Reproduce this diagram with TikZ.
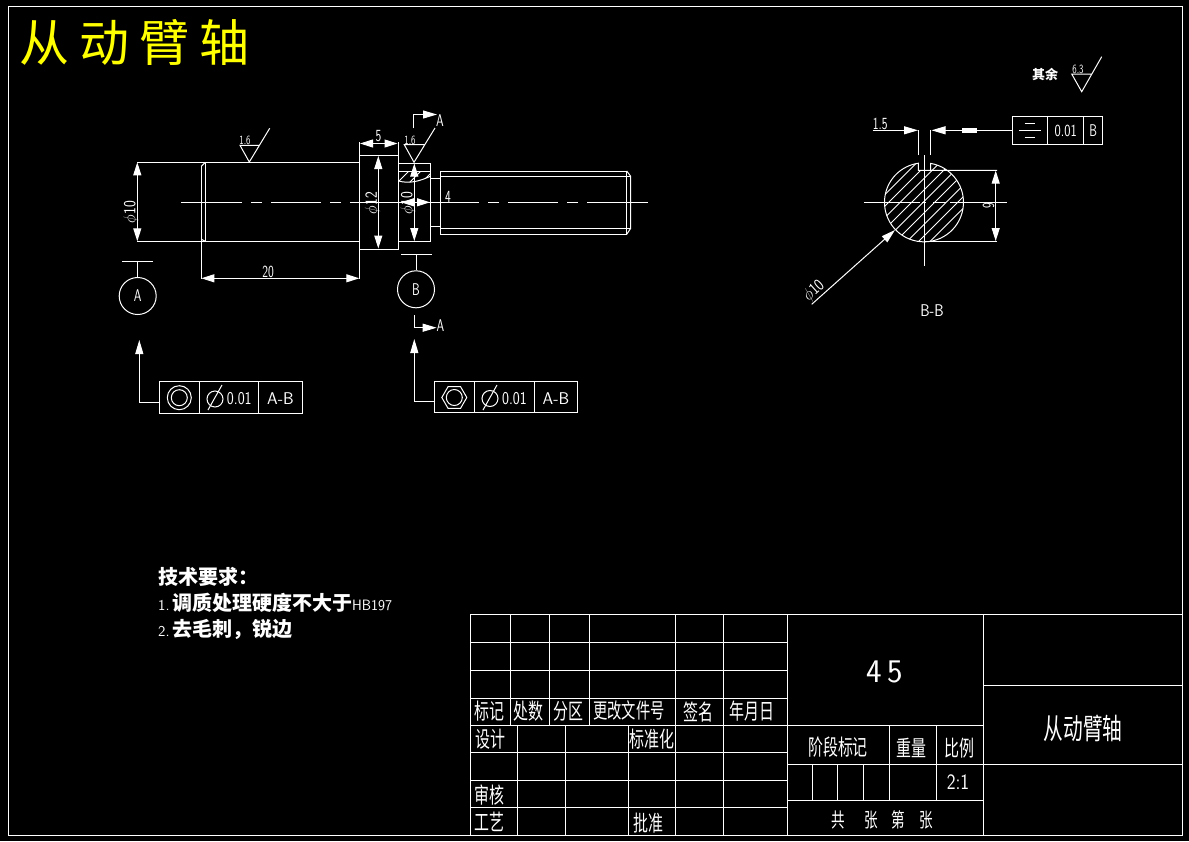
\documentclass[tikz,border=0pt]{standalone}
\usepackage{fontspec}
\usepackage{graphicx}
\usetikzlibrary{arrows.meta,shapes.geometric}
\newfontfamily\cjk[FakeStretch=0.68]{Noto Sans CJK SC}
\newfontfamily\cjkplain{Noto Sans CJK SC}
\newfontfamily\cjktitle[LetterSpace=20]{Noto Sans CJK SC}
\newcommand\nar[1]{\scalebox{.72}[1]{#1}}
\newcommand\nam[1]{\scalebox{.85}[1]{#1}}
\definecolor{titley}{RGB}{255,255,0}
\tikzset{
  ln/.style={draw=white,line width=1pt},
  tx/.style={text=white,inner sep=0pt,font=\sffamily\fontsize{17}{17}\selectfont},
  sm/.style={text=white,inner sep=0pt,font=\sffamily\fontsize{12.5}{12.5}\selectfont},
  tb/.style={text=white,inner sep=0pt,font=\cjk\fontsize{22}{22}\selectfont},
  req/.style={text=white,inner sep=0pt,anchor=west,font=\cjkplain\bfseries\fontsize{20}{20}\selectfont},
  ar/.style={-{Triangle[length=14pt,width=8pt]}},
  arb/.style={{Triangle[length=13pt,width=8pt]}-{Triangle[length=13pt,width=8pt]}},
  datum/.style={circle,draw=white,line width=1pt,minimum size=37pt,inner sep=0pt,text=white,font=\sffamily\fontsize{17}{17}\selectfont},
}
\begin{document}
\begin{tikzpicture}[x=1pt,y=-1pt]
\useasboundingbox (0,0) rectangle (1189,841);
\fill[black] (0,0) rectangle (1189,841);
% frame
\draw[ln] (8.5,6.5) rectangle (1182,835);
% title
\node[anchor=west,text=titley,inner sep=0pt,font=\cjktitle\fontsize{50}{50}\selectfont] (title) at (19,42) {从动臂轴};
% shaft main
\draw[ln] (137,162.3) -- (359.3,162.3);
\draw[ln] (137,241.3) -- (359.3,241.3);
\draw[ln] (201.3,166.3) -- (201.3,279);
\draw[ln] (205.3,162.3) -- (205.3,241.3);
\draw[ln] (201.3,166.3) -- (205.3,162.3);
\draw[ln] (201.3,239.3) -- (205.3,241.3);
% collar
\draw[ln] (359.3,155.3) rectangle (398.3,249.3);
\draw[ln] (359.3,155.3) -- (359.3,142);
\draw[ln] (398.3,155.3) -- (398.3,142);
\draw[ln] (359.3,249.3) -- (359.3,279);
% neck
\draw[ln] (398.3,163) rectangle (430.3,241.3);
\draw[ln] (398.3,171) -- (430.3,171);
\draw[ln] (398.3,181) .. controls (410,184) and (420,181) .. (430.3,176.3);
\begin{scope}
\clip (398.3,171) -- (430.3,171) -- (430.3,176.3) .. controls (420,181) and (410,184) .. (398.3,181) -- cycle;
\foreach \c in {580,592,604,616,628}
  \draw[ln] ({\c-160},160) -- ({\c-200},200);
\end{scope}
\draw[ln] (430.3,178.3) -- (440.3,178.3);
\draw[ln] (430.3,226.3) -- (440.3,226.3);
% thread
\draw[ln] (440.3,171) rectangle (626.7,234.3);
\draw[ln] (440.3,176.3) -- (630.7,176.3);
\draw[ln] (440.3,228.3) -- (630.7,228.3);
\draw[ln] (626.7,171) -- (630.7,176.3) -- (630.7,228.3) -- (626.7,234.3);
% centre line
\foreach \a/\b in {181.3/242,251/262,271/321,330/341,350/479,488/499,508/558,567/578,587/648}
  \draw[ln] (\a,202.3) -- (\b,202.3);
% dimensions
\draw[ln,arb] (137.3,162.3) -- (137.3,241.3);
\node[tx,rotate=90] (d1) at (131,212) {\nam{$\phi$10}};
\draw[ln,arb] (201.3,278.3) -- (359.3,278.3);
\node[tx] (d2) at (268,272) {\nar{20}};
\draw[ln,arb] (360,143.5) -- (397.5,143.5);
\node[tx] (d3) at (378.5,136.5) {\nar{5}};
\draw[ln,arb] (378.3,156) -- (378.3,248.5);
\node[tx,rotate=90] (d4) at (372.5,203) {\nam{$\phi$12}};
\draw[ln,arb] (414.3,163.5) -- (414.3,241);
\node[tx,rotate=90] (d5) at (408,203) {\nam{$\phi$10}};
\draw[ln,arb] (401,202.3) -- (430,202.3);
\node[tx] (d6) at (448,197) {\nar{4}};
% roughness 1
\draw[ln] (269.7,128.3) -- (249.3,162) -- (240,145.3) -- (259.3,145.3);
\node[sm] (r1) at (245,140.5) {\nar{1.6}};
% roughness 2
\draw[ln] (435,128) -- (414,162.3) -- (404.3,144.7) -- (424,144.7);
\node[sm] (r2) at (410,140) {\nar{1.6}};
% section marks
\coordinate (sa1) at (413.3,128.3);
\coordinate (sa2) at (437,114.5);
\draw[ln,ar] (sa1) |- (sa2);
\node[tx] (sa) at (440,121) {\nar{A}};
\coordinate (sb1) at (414.3,315);
\coordinate (sb2) at (436.7,327.7);
\draw[ln,ar] (sb1) |- (sb2);
\node[tx] (sb) at (440.5,326) {\nar{A}};
% datums
\node[datum] (dA) at (137.7,296) {\nar{A}};
\coordinate (dAt) at (137.7,261.3);
\draw[ln] (dA.north) -- (dAt);
\draw[ln] (122,261.3) -- (152.7,261.3);
\node[datum] (dB) at (416,289.3) {\nar{B}};
\coordinate (dBt) at (416,254.3);
\draw[ln] (dB.north) -- (dBt);
\draw[ln] (401,254.3) -- (431.7,254.3);
% FCF 1
\draw[ln] (159.3,381.3) rectangle (302.7,413.3);
\draw[ln] (199.3,381.3) -- (199.3,413.3);
\draw[ln] (258.3,381.3) -- (258.3,413.3);
\draw[ln] (179.3,397.7) circle[radius=12];
\draw[ln] (179.3,397.7) circle[radius=8];
\draw[ln] (215,399) circle[radius=8];
\draw[ln] (208,410) -- (222,385);
\node[tx,font=\sffamily\fontsize{18}{18}\selectfont] (f1a) at (239.3,399) {\scalebox{.82}[1]{0.01}};
\node[tx] (f1b) at (280.5,399) {A-B};
\coordinate (f1t) at (139.3,340);
\draw[ln,ar] (160,402.3) -| (f1t);
% FCF 2
\draw[ln] (434.3,381.3) rectangle (577.7,412.3);
\draw[ln] (474.3,381.3) -- (474.3,412.3);
\draw[ln] (534.3,381.3) -- (534.3,412.3);
\node[regular polygon,regular polygon sides=6,draw=white,line width=1pt,minimum size=25pt,inner sep=0pt] (hex) at (454.3,397.5) {};
\draw[ln] (454.3,397.5) circle[radius=8];
\draw[ln] (490,398.5) circle[radius=8];
\draw[ln] (483,410) -- (497,385);
\node[tx,font=\sffamily\fontsize{18}{18}\selectfont] (f2a) at (514.5,398.5) {\scalebox{.82}[1]{0.01}};
\node[tx] (f2b) at (556,398.5) {A-B};
\coordinate (f2t) at (414.3,339);
\draw[ln,ar] (435,401.3) -| (f2t);
% section B-B
\begin{scope}
\clip (930.7,163.4) arc[start angle=-80.2,end angle=261.7,radius=39.5] -- (918.3,170.3) -- (930.7,170.3) -- cycle;
\foreach \c in {1068,1079.5,1091,1102.5,1114,1125.5,1137,1148.5,1160,1171.5,1183}
  \draw[draw=white,line width=.8pt] ({\c-150},150) -- ({\c-260},260);
\end{scope}
\draw[ln] (930.7,170.3) -- (930.7,163.4) arc[start angle=-80.2,end angle=261.7,radius=39.5] -- (918.3,170.3) -- (997,170.3);
\draw[ln] (924,241.3) -- (997,241.3);
\foreach \a/\b in {864/920,922/926,933/946,950/1007}
  \draw[ln] (\a,202.3) -- (\b,202.3);
\draw[ln] (924,155) -- (924,265.7);
\draw[ln,arb] (995.7,170.6) -- (995.7,241);
\node[tx,rotate=90] (nine) at (988.5,206) {\nar{9}};
% 1.5 and symmetry
\draw[ln] (918.3,155) -- (918.3,130.3);
\draw[ln] (930.7,155) -- (930.7,130.3);
\draw[ln,ar] (872.7,130.3) -- (918,130.3);
\node[tx] (d15) at (880.3,124) {\nar{1.5}};
\draw[ln] (1012.3,116.3) rectangle (1102.7,144.7);
\draw[ln] (1047.7,116.3) -- (1047.7,144.7);
\draw[ln] (1083.7,116.3) -- (1083.7,144.7);
\draw[ln,ar] (1012.3,130.3) -- (931.5,130.3);
\fill[white] (962,128) rectangle (976.7,132.6);
\draw[ln] (1019.3,130.3) -- (1040.7,130.3);
\draw[ln] (1024.7,123) -- (1035.3,123);
\draw[ln] (1024.7,137.3) -- (1035.3,137.3);
\node[tx] (s1) at (1065.7,131) {\scalebox{.78}[1]{0.01}};
\node[tx] (s2) at (1093.2,131) {\nar{B}};
% phi10 leader
\coordinate (lead1) at (811.7,304.3);
\coordinate (lead2) at (895,230);
\draw[ln,ar] (lead1) -- (lead2);
\node[tx,rotate=42] (ld) at (814,291) {\nam{$\phi$10}};
\node[tx] (bb) at (932,311) {\scalebox{.88}[1]{B-B}};
% roughness other
\node[text=white,inner sep=0pt,font=\cjkplain\bfseries\fontsize{13}{13}\selectfont] (qy) at (1045,74) {其余};
\draw[ln] (1101.7,56.7) -- (1081.7,91.7) -- (1071.7,74) -- (1091.7,74);
\node[sm] (r3) at (1078,69) {\nar{6.3}};
% tech requirements
\node[req] (t1) at (158,577) {技术要求：};
\node[req] (t2) at (158,603) {{\sffamily\mdseries\fontsize{15}{15}\selectfont 1.\,}调质处理硬度不大于{\sffamily\fontsize{15}{15}\mdseries\selectfont\scalebox{.95}[1]{HB197}}};
\node[req] (t3) at (158,629) {{\sffamily\mdseries\fontsize{15}{15}\selectfont 2.\,}去毛刺，锐边};
% title block
\foreach \y in {614,642,670,698,725,752,780,807,835} \draw[ln] (470,\y) -- (787,\y);
\draw[ln] (470,614) -- (470,835);
\foreach \x in {510.5,549,589} \draw[ln] (\x,614) -- (\x,725);
\draw[ln] (517,725) -- (517,835);
\draw[ln] (565,725) -- (565,835);
\draw[ln] (628,725) -- (628,835);
\draw[ln] (675,614) -- (675,835);
\draw[ln] (723,614) -- (723,835);
\draw[ln] (787,614) -- (787,835);
\draw[ln] (470,614) -- (1182,614);
\draw[ln] (983,614) -- (983,835);
\draw[ln] (983,685) -- (1182,685);
\draw[ln] (787,764) -- (1182,764);
\draw[ln] (787,725) -- (983,725);
\draw[ln] (787,800) -- (983,800);
\draw[ln] (889,725) -- (889,800);
\draw[ln] (936,725) -- (936,800);
\foreach \x in {812,837,863} \draw[ln] (\x,764) -- (\x,800);
% table text
\node[tb] (a1) at (489,711) {标记};
\node[tb] (a2) at (528,711) {处数};
\node[tb] (a3) at (568,711) {分区};
\node[tb,font=\cjk\fontsize{21}{21}\selectfont] (a4) at (629,710) {更改文件号};
\node[tb] (a5) at (698,712) {签名};
\node[tb] (a6) at (752,711) {年月日};
\node[tb] (a7) at (490,739) {设计};
\node[tb] (a8) at (652,739) {标准化};
\node[tb] (a9) at (489,795) {审核};
\node[tb] (a10) at (489,822) {工艺};
\node[tb] (a11) at (648,823) {批准};
\node[tb] (a12) at (838,747) {阶段标记};
\node[tb] (a13) at (911,748) {重量};
\node[tb] (a14) at (959,748) {比例};
\node[text=white,inner sep=0pt,font=\sffamily\fontsize{22}{22}\selectfont] (a15) at (958,782) {\scalebox{.85}[1]{2:1}};
\node[tb,font=\cjk\fontsize{20}{20}\selectfont] (a16a) at (838,820) {共};
\node[tb,font=\cjk\fontsize{20}{20}\selectfont] (a16b) at (871,820) {张};
\node[tb,font=\cjk\fontsize{20}{20}\selectfont] (a16c) at (898,820) {第};
\node[tb,font=\cjk\fontsize{20}{20}\selectfont] (a16d) at (926,820) {张};
\node[text=white,inner sep=0pt,font=\sffamily\fontsize{33}{33}\selectfont] (mat) at (885,672) {4\,5};
\node[tb,font=\cjk\fontsize{29}{29}\selectfont] (nm) at (1083,728) {从动臂轴};
\end{tikzpicture}
\end{document}
